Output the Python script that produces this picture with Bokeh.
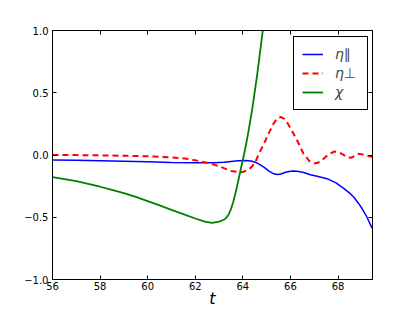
from bokeh.plotting import figure
from bokeh.models import (Range1d, LinearAxis, FixedTicker, Legend, LegendItem)
from bokeh.embed import file_html
from bokeh.resources import INLINE

# ---- data ----
t_par = [56.0, 57.0, 58.0, 59.0, 60.0, 61.0, 62.0, 62.8, 63.2, 63.5, 63.8, 64.1,
         64.35, 64.55, 64.75, 64.9, 65.1, 65.3, 65.45, 65.6, 65.8, 66.0, 66.15,
         66.35, 66.56, 66.84, 67.12, 67.54, 67.9, 68.24, 68.5, 68.66, 68.85,
         69.01, 69.22, 69.4, 69.45]
eta_par = [-0.040, -0.043, -0.047, -0.051, -0.055, -0.060, -0.063, -0.063, -0.058,
           -0.052, -0.047, -0.044, -0.048, -0.060, -0.082, -0.100, -0.130, -0.151,
           -0.157, -0.152, -0.138, -0.130, -0.129, -0.133, -0.140, -0.158, -0.170,
           -0.190, -0.222, -0.268, -0.308, -0.338, -0.385, -0.430, -0.500, -0.575,
           -0.590]

t_perp = [56.0, 57.0, 58.0, 59.0, 60.0, 60.5, 61.0, 61.4, 61.8, 62.2, 62.6, 63.0,
          63.5, 63.9, 64.2, 64.4, 64.55, 64.7, 64.9, 65.1, 65.3, 65.45, 65.6,
          65.75, 65.9, 66.05, 66.3, 66.55, 66.8, 67.0, 67.15, 67.35, 67.6, 67.85,
          68.0, 68.2, 68.4, 68.55, 68.7, 68.87, 69.05, 69.2, 69.45]
eta_perp = [0.000, -0.001, -0.003, -0.006, -0.010, -0.014, -0.019, -0.025, -0.035,
            -0.050, -0.068, -0.090, -0.128, -0.140, -0.125, -0.090, -0.045, 0.020,
            0.095, 0.180, 0.255, 0.295, 0.305, 0.290, 0.250, 0.200, 0.110, 0.010,
            -0.050, -0.068, -0.063, -0.038, 0.005, 0.028, 0.025, 0.005, -0.018,
            -0.022, -0.008, 0.010, 0.003, -0.006, -0.015]

t_chi = [56.0, 56.5, 57.0, 57.5, 58.0, 58.5, 59.0, 59.5, 60.0, 60.5, 61.0, 61.5,
         62.0, 62.4, 62.7, 63.0, 63.2, 63.3, 63.4, 63.5, 63.6, 63.7, 63.8, 63.9,
         64.0, 64.1, 64.2, 64.3, 64.4, 64.5, 64.6, 64.7, 64.8, 64.9, 65.0]
chi = [-0.178, -0.193, -0.210, -0.232, -0.255, -0.280, -0.307, -0.337, -0.370,
       -0.405, -0.440, -0.475, -0.510, -0.535, -0.545, -0.535, -0.520, -0.505,
       -0.480, -0.435, -0.375, -0.300, -0.215, -0.125, -0.040, 0.050, 0.150,
       0.260, 0.375, 0.510, 0.640, 0.790, 0.940, 1.100, 1.250]

x_ticks = [56, 58, 60, 62, 64, 66, 68]
y_ticks = [-1.0, -0.5, 0.0, 0.5, 1.0]
y_tick_labels = ["\u22121.0", "\u22120.5", "0.0", "0.5", "1.0"]
legend_labels = ["\u03b7\u2225", "\u03b7\u22a5", "\u03c7"]
x_label = "t"

FONT = "DejaVu Sans"

p = figure(width=413, height=310, output_backend="svg", toolbar_location=None,
           x_range=Range1d(56, 69.45), y_range=Range1d(-1, 1),
           x_axis_location=None, y_axis_location=None,
           min_border_left=52, min_border_right=41, min_border_top=30,
           min_border_bottom=31)
p.grid.visible = False
p.outline_line_color = "black"
p.outline_line_width = 1
p.background_fill_color = "white"
p.border_fill_color = "white"


def make_axis(ticks, show_labels, overrides=None):
    ax = LinearAxis(ticker=FixedTicker(ticks=ticks))
    ax.major_tick_in = 4
    ax.major_tick_out = 0
    ax.minor_tick_in = 0
    ax.minor_tick_out = 0
    ax.axis_line_color = "black"
    ax.major_tick_line_color = "black"
    ax.major_label_text_font = FONT
    ax.major_label_text_font_size = "10px"
    ax.major_label_text_color = "black"
    ax.major_label_standoff = 3 if show_labels else 0
    if overrides:
        ax.major_label_overrides = overrides
    elif not show_labels:
        ax.major_label_overrides = {v: "" for v in ticks}
    return ax


bottom = make_axis(x_ticks, True)
bottom.major_label_standoff = 2
bottom.axis_label = x_label
bottom.axis_label_standoff = -4
bottom.axis_label_text_font = FONT
bottom.axis_label_text_font_size = "16px"
bottom.axis_label_text_font_style = "italic"
bottom.axis_label_text_color = "black"
left = make_axis(y_ticks, True, {v: s for v, s in zip(y_ticks, y_tick_labels)})
left.major_label_standoff = 4
top = make_axis(x_ticks, False)
right = make_axis(y_ticks, False)
p.add_layout(bottom, "below")
p.add_layout(left, "left")
p.add_layout(top, "above")
p.add_layout(right, "right")

r1 = p.line(t_par, eta_par, line_color="#0000ff", line_width=1.5)
r2 = p.line(t_perp, eta_perp, line_color="#ff0000", line_width=2, line_dash="6 4")
r3 = p.line(t_chi, chi, line_color="#008000", line_width=1.8)

legend = Legend(items=[LegendItem(label=legend_labels[0], renderers=[r1]),
                       LegendItem(label=legend_labels[1], renderers=[r2]),
                       LegendItem(label=legend_labels[2], renderers=[r3])],
                location=(241, 169))
legend.margin = 0
legend.padding = 8
legend.spacing = 1
legend.glyph_width = 21
legend.glyph_height = 18
legend.label_height = 18
legend.label_width = 24
legend.label_standoff = 12
legend.label_text_font = FONT
legend.label_text_font_size = "14px"
legend.label_text_font_style = "italic"
legend.border_line_color = "black"
legend.border_line_width = 1
legend.border_line_alpha = 1
legend.background_fill_color = "white"
legend.background_fill_alpha = 1
p.add_layout(legend, "center")

open("out.html", "w").write(file_html(p, INLINE))
